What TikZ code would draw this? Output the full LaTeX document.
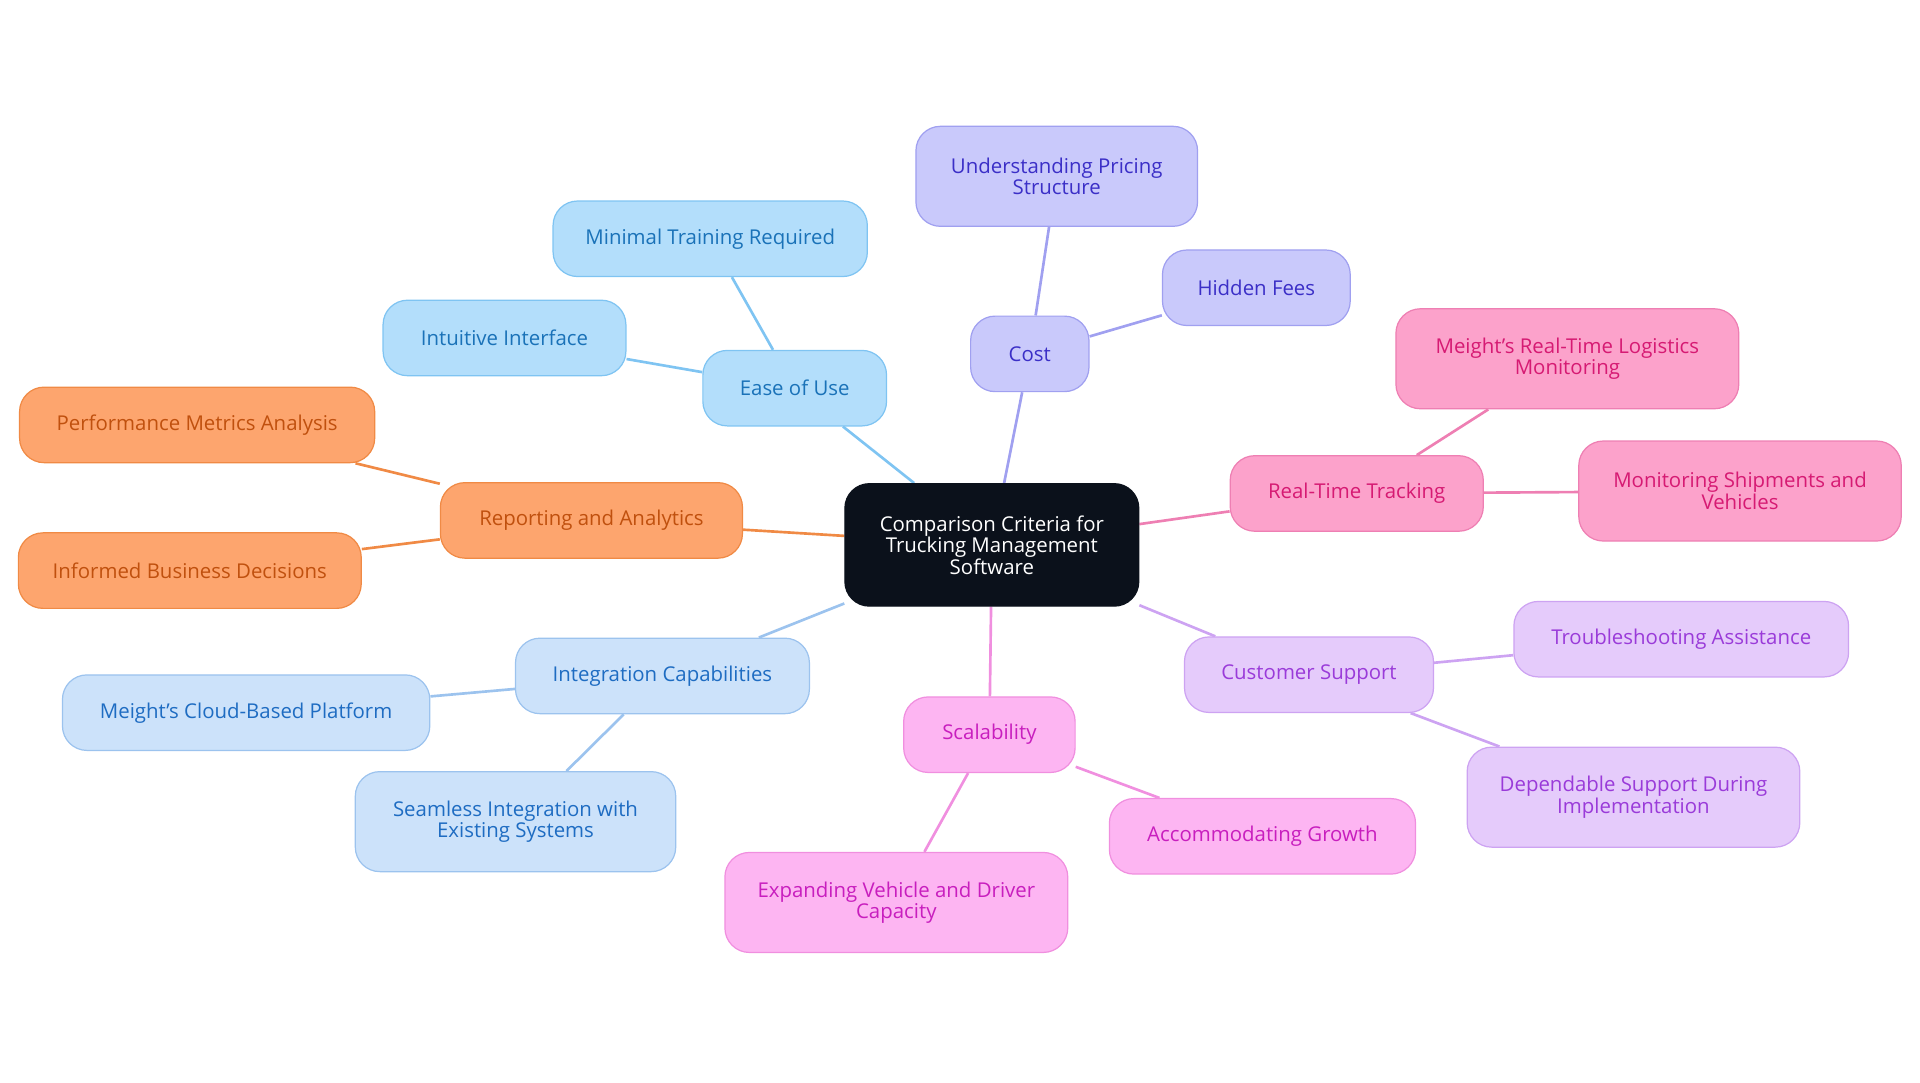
\documentclass[tikz,border=0pt]{standalone}
\usepackage{fontspec}
\setmainfont{Open Sans}
\usetikzlibrary{backgrounds}

\definecolor{rootfill}{HTML}{0B111B}
\definecolor{easefill}{HTML}{B3DEFB}\definecolor{easeline}{HTML}{7FC4F2}\definecolor{easetext}{HTML}{1A72B8}
\definecolor{costfill}{HTML}{C9C9FB}\definecolor{costline}{HTML}{A0A0F0}\definecolor{costtext}{HTML}{3B2FC7}
\definecolor{trackfill}{HTML}{FCA2CB}\definecolor{trackline}{HTML}{EE7FB3}\definecolor{tracktext}{HTML}{D61A73}
\definecolor{suppfill}{HTML}{E5CBFB}\definecolor{suppline}{HTML}{CDA3F2}\definecolor{supptext}{HTML}{9A3BD9}
\definecolor{scalfill}{HTML}{FDB5F2}\definecolor{scalline}{HTML}{F08FDF}\definecolor{scaltext}{HTML}{C81EBE}
\definecolor{intfill}{HTML}{CCE2FA}\definecolor{intline}{HTML}{9CC3EE}\definecolor{inttext}{HTML}{1E6CC2}
\definecolor{repfill}{HTML}{FDA56E}\definecolor{repline}{HTML}{F08A45}\definecolor{reptext}{HTML}{C0500E}

\tikzset{
    box/.style={draw,rounded corners=12pt,align=center,minimum height=37pt,inner sep=2pt,font=\fontsize{10}{10.5}\selectfont,line width=0.6pt},
    ease/.style={box,fill=easefill,draw=easeline,text=easetext},
    cost/.style={box,fill=costfill,draw=costline,text=costtext},
    track/.style={box,fill=trackfill,draw=trackline,text=tracktext},
    supp/.style={box,fill=suppfill,draw=suppline,text=supptext},
    scal/.style={box,fill=scalfill,draw=scalline,text=scaltext},
    integ/.style={box,fill=intfill,draw=intline,text=inttext},
    rep/.style={box,fill=repfill,draw=repline,text=reptext},
    tall/.style={minimum height=49pt},
    link/.style={line width=1.3pt}
}

\begin{document}
\begin{tikzpicture}[x=0.6pt,y=-0.6pt]
    \useasboundingbox (0,0) rectangle (1568,884);

    \node[box,fill=rootfill,draw=rootfill,text=white,minimum width=144pt,minimum height=60pt] (root) at (810,445) {Comparison Criteria for\\Trucking Management\\Software};

    \node[ease,minimum width=90pt] (ease) at (649,317) {Ease of Use};
    \node[ease,minimum width=154pt] (training) at (580,195) {Minimal Training Required};
    \node[ease,minimum width=119pt] (interface) at (412,276) {Intuitive Interface};

    \node[cost,minimum width=58pt] (cost) at (841,289) {Cost};
    \node[cost,tall,minimum width=138pt] (pricing) at (863,144) {Understanding Pricing\\Structure};
    \node[cost,minimum width=92pt] (fees) at (1026,235) {Hidden Fees};

    \node[track,minimum width=124pt] (track) at (1108,403) {Real-Time Tracking};
    \node[track,tall,minimum width=168pt] (logistics) at (1280,293) {Meight’s Real-Time Logistics\\Monitoring};
    \node[track,tall,minimum width=158pt] (shipments) at (1421,401) {Monitoring Shipments and\\Vehicles};

    \node[supp,minimum width=122pt] (support) at (1069,551) {Customer Support};
    \node[supp,minimum width=164pt] (trouble) at (1373,522) {Troubleshooting Assistance};
    \node[supp,tall,minimum width=163pt] (dependable) at (1334,651) {Dependable Support During\\Implementation};

    \node[scal,minimum width=84pt] (scal) at (808,600) {Scalability};
    \node[scal,minimum width=150pt] (growth) at (1031,683) {Accommodating Growth};
    \node[scal,tall,minimum width=168pt] (capacity) at (732,737) {Expanding Vehicle and Driver\\Capacity};

    \node[integ,minimum width=144pt] (integ) at (541,552) {Integration Capabilities};
    \node[integ,minimum width=180pt] (cloud) at (201,582) {Meight’s Cloud-Based Platform};
    \node[integ,tall,minimum width=157pt] (seamless) at (421,671) {Seamless Integration with\\Existing Systems};

    \node[rep,minimum width=148pt] (rep) at (483,425) {Reporting and Analytics};
    \node[rep,minimum width=174pt] (metrics) at (161,347) {Performance Metrics Analysis};
    \node[rep,minimum width=168pt] (decisions) at (155,466) {Informed Business Decisions};

    \begin{scope}[on background layer]
        \draw[link,easeline] (root) -- (ease) (ease) -- (training) (ease) -- (interface);
        \draw[link,costline] (root) -- (cost) (cost) -- (pricing) (cost) -- (fees);
        \draw[link,trackline] (root) -- (track) (track) -- (logistics) (track) -- (shipments);
        \draw[link,suppline] (root) -- (support) (support) -- (trouble) (support) -- (dependable);
        \draw[link,scalline] (root) -- (scal) (scal) -- (growth) (scal) -- (capacity);
        \draw[link,intline] (root) -- (integ) (integ) -- (cloud) (integ) -- (seamless);
        \draw[link,repline] (root) -- (rep) (rep) -- (metrics) (rep) -- (decisions);
    \end{scope}
\end{tikzpicture}
\end{document}
